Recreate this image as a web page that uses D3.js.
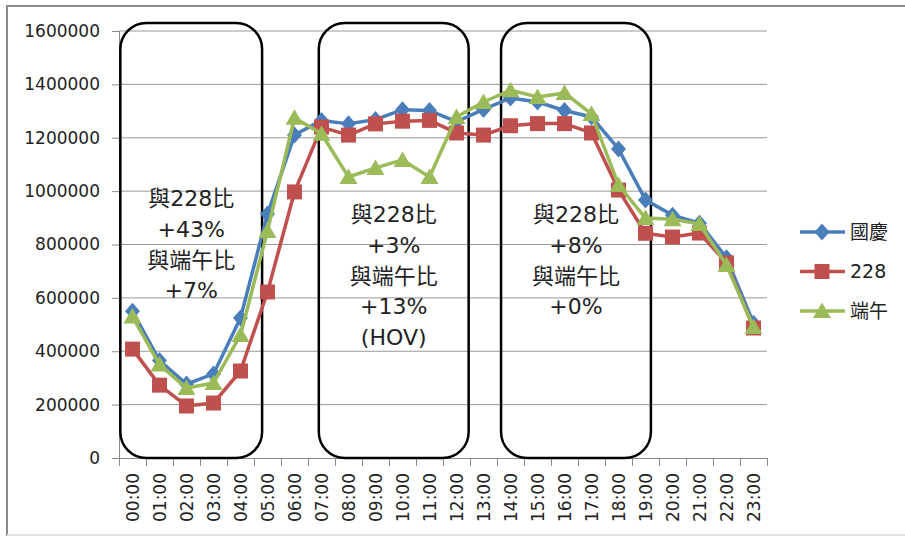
<!DOCTYPE html>
<html>
<head>
<meta charset="utf-8">
<script src="https://cdn.jsdelivr.net/npm/d3@7"></script>
<style>
  body { margin: 0; background: #fff; }
  text { font-family: "DejaVu Sans", "Noto Sans CJK TC", sans-serif; fill: #222; }
</style>
</head>
<body>
<div id="chart"></div>
<script>
const hours = ["00:00","01:00","02:00","03:00","04:00","05:00","06:00","07:00","08:00","09:00","10:00","11:00",
               "12:00","13:00","14:00","15:00","16:00","17:00","18:00","19:00","20:00","21:00","22:00","23:00"];

const guoqing = [550000, 365000, 277000, 315000, 525000, 914000, 1210000, 1265000, 1252000, 1268000, 1305000, 1302000,
                 1260000, 1306000, 1349000, 1334000, 1302000, 1278000, 1158000, 967000, 910000, 880000, 750000, 505000];
const feb228 = [408000, 273000, 195000, 206000, 326000, 622000, 997000, 1240000, 1210000, 1252000, 1262000, 1265000,
                1218000, 1210000, 1245000, 1253000, 1253000, 1218000, 1004000, 842000, 828000, 843000, 731000, 487000];
const duanwu = [530000, 350000, 262000, 281000, 461000, 851000, 1275000, 1215000, 1053000, 1087000, 1117000, 1053000,
                1278000, 1334000, 1378000, 1353000, 1368000, 1289000, 1023000, 899000, 895000, 877000, 723000, 491000];

const seriesNames = ["國慶", "228", "端午"];
const yTicks = [0, 200000, 400000, 600000, 800000, 1000000, 1200000, 1400000, 1600000];

const notes = [
    ["與228比", "+43%", "與端午比", "+7%"],
    ["與228比", "+3%", "與端午比", "+13%", "(HOV)"],
    ["與228比", "+8%", "與端午比", "+0%"]
];

const width = 905, height = 536;
const colors = ["#4A7EBB", "#C0504D", "#9BBB59"];
const shapes = ["diamond", "square", "triangle"];

const svg = d3.select("#chart").append("svg")
    .attr("width", width)
    .attr("height", height);

// chart frame
svg.append("rect")
    .attr("x", 7).attr("y", 6)
    .attr("width", 920).attr("height", 529)
    .attr("fill", "none")
    .attr("stroke", "#8a8a8a")
    .attr("stroke-width", 2);
svg.append("line")
    .attr("x1", 7).attr("x2", width).attr("y1", 535).attr("y2", 535)
    .attr("stroke", "#e4e4e4").attr("stroke-width", 2);

const plot = { left: 119, right: 767, top: 31, bottom: 458 };

const x = d3.scaleBand().domain(hours).range([plot.left, plot.right]).padding(0);
const xi = d3.scaleLinear().domain([0, hours.length]).range([plot.left, plot.right]);
const y = d3.scaleLinear().domain([0, 1600000]).range([plot.bottom, plot.top]);
const cx = h => x(h) + x.bandwidth() / 2;

// gridlines
svg.append("g")
    .selectAll("line")
    .data(yTicks.slice(1))
    .enter().append("line")
    .attr("x1", plot.left).attr("x2", plot.right)
    .attr("y1", d => y(d)).attr("y2", d => y(d))
    .attr("stroke", "#9a9a9a").attr("stroke-width", 1);

// y axis
const yAxis = svg.append("g")
    .attr("transform", `translate(${plot.left},0)`)
    .call(d3.axisLeft(y).tickValues(yTicks).tickSize(7).tickPadding(12).tickFormat(d3.format("d")));
yAxis.selectAll("line, path").attr("stroke", "#8a8a8a");
yAxis.selectAll("text").style("font-size", "17px").attr("fill", "#222");

// x axis (ticks on category boundaries)
const xAxis = svg.append("g")
    .attr("transform", `translate(0,${plot.bottom})`)
    .call(d3.axisBottom(xi).tickValues(d3.range(0, hours.length + 1)).tickSize(8).tickFormat(""));
xAxis.selectAll("line, path").attr("stroke", "#8a8a8a");

svg.append("g")
    .selectAll("text")
    .data(hours)
    .enter().append("text")
    .attr("transform", d => `translate(${cx(d) + 1},473) rotate(-90)`)
    .attr("text-anchor", "end")
    .attr("dy", "0.35em")
    .style("font-size", "17px")
    .text(d => d);

// annotation boxes
const boxSpans = [[0.05, 5.3], [7.4, 12.95], [14.15, 19.7]];
const boxLineStart = [206, 222, 222];

boxSpans.forEach((s, i) => {
    svg.append("rect")
        .attr("x", xi(s[0])).attr("width", xi(s[1]) - xi(s[0]))
        .attr("y", y(1630000)).attr("height", y(0) - y(1630000))
        .attr("rx", 26).attr("ry", 26)
        .attr("fill", "none")
        .attr("stroke", "#000")
        .attr("stroke-width", 2.5);

    svg.append("g")
        .selectAll("text")
        .data(notes[i])
        .enter().append("text")
        .attr("x", (xi(s[0]) + xi(s[1])) / 2)
        .attr("y", (d, j) => boxLineStart[i] + j * 30.8)
        .attr("text-anchor", "middle")
        .style("font-size", "22px")
        .text(d => d);
});

function marker(shape) {
    if (shape === "diamond") return "M0,-8.5L7.5,0L0,8.5L-7.5,0Z";
    if (shape === "square") return "M-7.5,-7.5H7.5V7.5H-7.5Z";
    return "M0,-8.5L9,7L-9,7Z";
}

const allSeries = [guoqing, feb228, duanwu];

const line = d3.line()
    .x((d, i) => cx(hours[i]))
    .y(d => y(d));

allSeries.forEach((vals, k) => {
    const g = svg.append("g");
    g.append("path")
        .datum(vals)
        .attr("d", line)
        .attr("fill", "none")
        .attr("stroke", colors[k])
        .attr("stroke-width", 3.5)
        .attr("stroke-linejoin", "round");
    g.selectAll("path.mk")
        .data(vals)
        .enter().append("path")
        .attr("class", "mk")
        .attr("d", marker(shapes[k]))
        .attr("transform", (d, i) => `translate(${cx(hours[i])},${y(d)})`)
        .attr("fill", colors[k]);
});

// legend
const legend = svg.append("g").attr("transform", "translate(800,232)");
seriesNames.forEach((name, k) => {
    const row = legend.append("g").attr("transform", `translate(0,${k * 39.5})`);
    row.append("line")
        .attr("x1", 0).attr("x2", 45)
        .attr("stroke", colors[k]).attr("stroke-width", 3.5);
    row.append("path")
        .attr("d", marker(shapes[k]))
        .attr("transform", "translate(22,0)")
        .attr("fill", colors[k]);
    row.append("text")
        .attr("x", 50)
        .attr("dy", "0.36em")
        .style("font-size", "19px")
        .text(name);
});
</script>
</body>
</html>
